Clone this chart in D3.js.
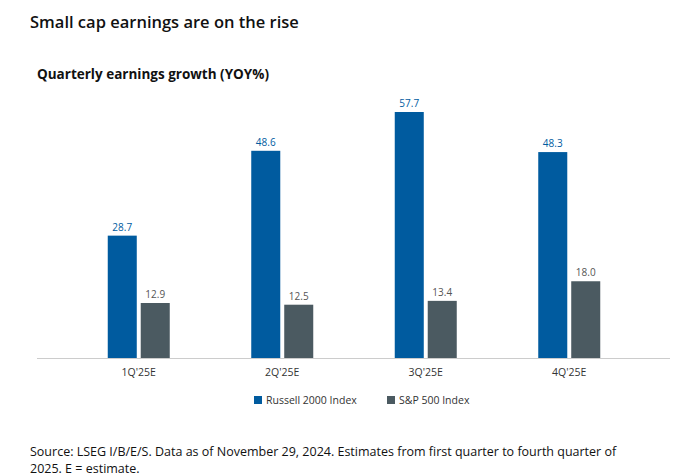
<!DOCTYPE html>
<html><head><meta charset="utf-8">
<script src="https://cdn.jsdelivr.net/npm/d3@7"></script>
<style>body{margin:0;background:#fff;font-family:"Open Sans",Arial,sans-serif;}</style>
</head><body><svg id="c" width="683" height="476"></svg>
<script>
const categories = ["1Q'25E","2Q'25E","3Q'25E","4Q'25E"];
const seriesNames = ["Russell 2000 Index","S&P 500 Index"];
const russell = [28.7, 48.6, 57.7, 48.3];
const sp500 = [12.9, 12.5, 13.4, 18.0];
const colors = ["#005b9f","#4b5a61"];

const svg = d3.select("#c");
const base = 358;
const y = d3.scaleLinear().domain([0,57.7]).range([base,112]);
const x = d3.scaleBand().domain(categories).range([67,641]);
const xs = d3.scaleBand().domain(seriesNames).range([0,62]).paddingInner(0.12);

svg.append("text").attr("x",30).attr("y",28).attr("font-size",16.5).attr("font-weight",600).attr("fill","#111").text("Small cap earnings are on the rise");
svg.append("text").attr("x",37).attr("y",79).attr("font-size",13.5).attr("font-weight",700).attr("fill","#111").text("Quarterly earnings growth (YOY%)");

const data = [russell, sp500];
data.forEach((vals,si)=>{
  const g = svg.append("g");
  vals.forEach((v,i)=>{
    const cx = x(categories[i]) + x.bandwidth()/2 - 31 + xs(seriesNames[si]);
    g.append("rect").attr("x",cx).attr("y",y(v)).attr("width",xs.bandwidth()).attr("height",base-y(v)).attr("fill",colors[si]);
    g.append("text").attr("x",cx+xs.bandwidth()/2).attr("y",y(v)-5).attr("text-anchor","middle")
      .attr("font-size",10).attr("fill",si===0?"#005b9f":"#555").text(v.toFixed(1));
  });
});
svg.append("line").attr("x1",37).attr("x2",670).attr("y1",base+0.5).attr("y2",base+0.5).attr("stroke","#ccc");
categories.forEach(c=>{
  svg.append("text").attr("x",x(c)+x.bandwidth()/2).attr("y",376).attr("text-anchor","middle").attr("font-size",10.5).attr("fill","#333").text(c);
});
const lx=[254,387];
seriesNames.forEach((s,i)=>{
  svg.append("rect").attr("x",lx[i]).attr("y",396).attr("width",8).attr("height",8).attr("fill",colors[i]);
  svg.append("text").attr("x",lx[i]+12).attr("y",404).attr("font-size",10.5).attr("fill","#333").text(s);
});
svg.append("text").attr("x",30).attr("y",456).attr("font-size",12.5).attr("fill","#111").text("Source: LSEG I/B/E/S. Data as of November 29, 2024. Estimates from first quarter to fourth quarter of");
svg.append("text").attr("x",30).attr("y",473).attr("font-size",12.5).attr("fill","#111").text("2025. E = estimate.");
</script></body></html>
